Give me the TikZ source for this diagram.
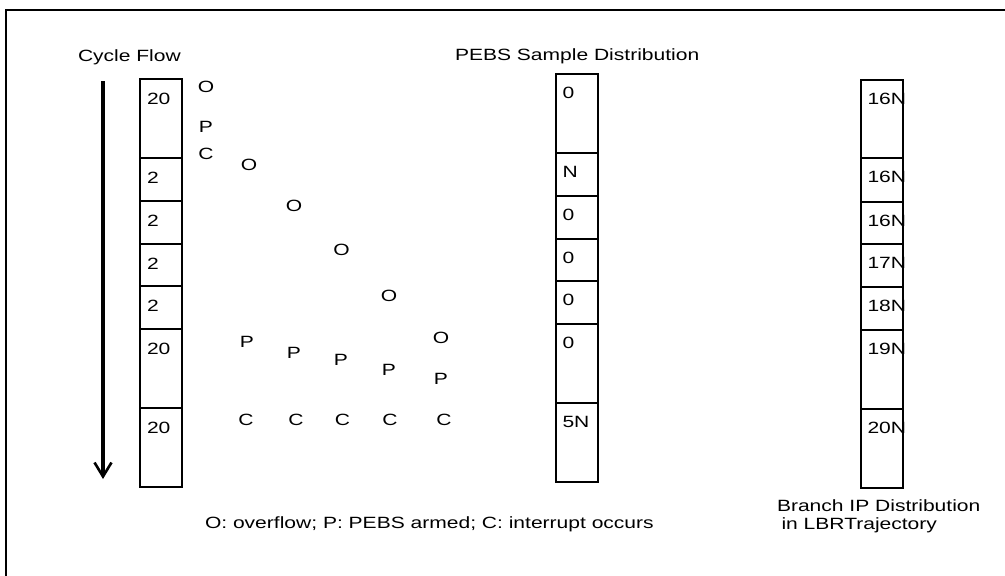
\documentclass[tikz,border=0pt]{standalone}
\usepackage{fontspec}
\setmainfont[FakeStretch=1.29]{Liberation Sans}
\usetikzlibrary{arrows.meta}
\begin{document}
\begin{tikzpicture}[x=1pt,y=-1pt,
  cell/.style={draw, line width=2pt, minimum width=42pt, inner sep=0pt, outer sep=0pt},
  txt/.style={inner sep=0pt, outer sep=0pt, font=\fontsize{16.3}{18}\selectfont},
  lab/.style={txt, anchor=base west},
  evt/.style={txt, anchor=center}
]
\useasboundingbox (0,0) rectangle (1005,576);
\fill[white] (0,0) rectangle (1005,576);
% frame
\draw[line width=2pt] (6,576) -- (6,10) -- (1005,10);

% titles
\node[lab] (t1) at (78,61.5) {Cycle Flow};
\node[lab] (t2) at (455,60.5) {PEBS Sample Distribution};
\node[lab] (t3) at (205,528) {O: overflow; P: PEBS armed; C: interrupt occurs};
\node[txt, anchor=north west, align=left] (t4) at (777,500) {Branch IP Distribution\\\hspace*{0.278em}in LBRTrajectory};

% arrow
\coordinate (fs) at (103,81);
\coordinate (fe) at (103,479);
\draw[line width=3.2pt, -{Straight Barb[length=14pt,width=17pt,line width=2.6pt]}] (fs) -- (fe);

% left column
\node[cell, minimum height=79pt] (a1) at (161,118.5) {};
\node[cell, minimum height=43pt] (a2) at (161,179.5) {};
\node[cell, minimum height=43pt] (a3) at (161,222.5) {};
\node[cell, minimum height=42pt] (a4) at (161,265) {};
\node[cell, minimum height=43pt] (a5) at (161,307.5) {};
\node[cell, minimum height=79pt] (a6) at (161,368.5) {};
\node[cell, minimum height=79pt] (a7) at (161,447.5) {};
\node[lab] at ([shift={(7,25)}]a1.north west) {20};
\node[lab] at ([shift={(7,25)}]a2.north west) {2};
\node[lab] at ([shift={(7,25)}]a3.north west) {2};
\node[lab] at ([shift={(7,25)}]a4.north west) {2};
\node[lab] at ([shift={(7,25)}]a5.north west) {2};
\node[lab] at ([shift={(7,25)}]a6.north west) {20};
\node[lab] at ([shift={(7,25)}]a7.north west) {20};

% middle column
\node[cell, minimum height=79pt] (b1) at (576.5,113.5) {};
\node[cell, minimum height=43pt] (b2) at (576.5,174.5) {};
\node[cell, minimum height=43pt] (b3) at (576.5,217.5) {};
\node[cell, minimum height=42pt] (b4) at (576.5,260) {};
\node[cell, minimum height=43pt] (b5) at (576.5,302.5) {};
\node[cell, minimum height=79pt] (b6) at (576.5,363.5) {};
\node[cell, minimum height=79pt] (b7) at (576.5,442.5) {};
\node[lab] at ([shift={(7,24.5)}]b1.north west) {0};
\node[lab] at ([shift={(7,24.5)}]b2.north west) {N};
\node[lab] at ([shift={(7,24.5)}]b3.north west) {0};
\node[lab] at ([shift={(7,24.5)}]b4.north west) {0};
\node[lab] at ([shift={(7,24.5)}]b5.north west) {0};
\node[lab] at ([shift={(7,24.5)}]b6.north west) {0};
\node[lab] at ([shift={(7,24.5)}]b7.north west) {5N};

% right column
\node[cell, minimum height=78pt] (c1) at (881.5,119) {};
\node[cell, minimum height=44pt] (c2) at (881.5,180) {};
\node[cell, minimum height=42pt] (c3) at (881.5,223) {};
\node[cell, minimum height=43pt] (c4) at (881.5,265.5) {};
\node[cell, minimum height=43pt] (c5) at (881.5,308.5) {};
\node[cell, minimum height=79pt] (c6) at (881.5,369.5) {};
\node[cell, minimum height=79pt] (c7) at (881.5,448.5) {};
\node[lab] at ([shift={(7,24)}]c1.north west) {16N};
\node[lab] at ([shift={(7,24)}]c2.north west) {16N};
\node[lab] at ([shift={(7,24)}]c3.north west) {16N};
\node[lab] at ([shift={(7,24)}]c4.north west) {17N};
\node[lab] at ([shift={(7,24)}]c5.north west) {18N};
\node[lab] at ([shift={(7,24)}]c6.north west) {19N};
\node[lab] at ([shift={(7,24)}]c7.north west) {20N};

% events
\node[evt] (o1) at (206,87) {O};
\node[evt] (p1) at (206,126.5) {P};
\node[evt] (k1) at (206,153.5) {C};
\node[evt] (o2) at (249,165) {O};
\node[evt] (o3) at (294,206) {O};
\node[evt] (o4) at (341.5,250) {O};
\node[evt] (o5) at (389,296) {O};
\node[evt] (o6) at (441,338) {O};
\node[evt] (p2) at (247,342) {P};
\node[evt] (p3) at (294,353) {P};
\node[evt] (p4) at (341,360) {P};
\node[evt] (p5) at (389,370) {P};
\node[evt] (p6) at (441,379) {P};
\node[evt] (k2) at (246,420) {C};
\node[evt] (k3) at (296,420) {C};
\node[evt] (k4) at (342.5,420) {C};
\node[evt] (k5) at (390,420) {C};
\node[evt] (k6) at (444,420) {C};
\end{tikzpicture}
\end{document}
